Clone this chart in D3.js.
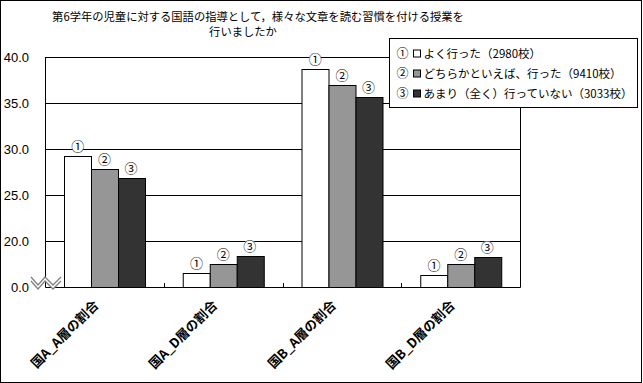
<!DOCTYPE html>
<html>
<head>
<meta charset="utf-8">
<script src="https://cdn.jsdelivr.net/npm/d3@7"></script>
<style>
  body { margin: 0; background: #fff; }
  svg text { font-family: "Noto Sans CJK JP", sans-serif; fill: #000; }
</style>
</head>
<body>
<svg id="chart" width="643" height="383"></svg>
<script>
// categories and series
const categories = ["国A_A層の割合", "国A_D層の割合", "国B_A層の割合", "国B_D層の割合"];
const seriesMarks = ["①", "②", "③"];
const seriesNames = ["よく行った（2980校）", "どちらかといえば、行った（9410校）", "あまり（全く）行っていない（3033校）"];
const seriesColors = ["#ffffff", "#969696", "#333333"];

// values as plotted on the broken axis
const yoku = [29.2, 16.5, 38.7, 16.3];
const dochiraka = [27.8, 17.5, 37.0, 17.5];
const amari = [26.8, 18.4, 35.7, 18.3];

const yTicks = [15, 20, 25, 30, 35, 40];
const yTickLabels = ["0.0", "20.0", "25.0", "30.0", "35.0", "40.0"];

const titleLines = ["第6学年の児童に対する国語の指導として，様々な文章を読む習慣を付ける授業を", "行いましたか"];

const svg = d3.select("#chart");
const W = +svg.attr("width");
const H = +svg.attr("height");

const plot = { left: 45, right: 520, top: 57, bottom: 287 };

const values = [yoku, dochiraka, amari];
const rows = categories.map((c, i) => ({ cat: c, vals: values.map(v => v[i]) }));

const x0 = d3.scaleBand()
  .domain(categories)
  .range([plot.left, plot.right]);

const x1 = d3.scaleBand()
  .domain(d3.range(seriesMarks.length))
  .range([0, x0.bandwidth()])
  .paddingInner(0)
  .paddingOuter(0.727);

const y = d3.scaleLinear()
  .domain([15, 40])
  .range([plot.bottom, plot.top]);

// outer frame
svg.append("rect")
  .attr("x", 0.5).attr("y", 0.5)
  .attr("width", W - 2).attr("height", H - 1)
  .attr("fill", "#fff").attr("stroke", "#000");

// title
svg.append("text")
  .attr("x", 258).attr("y", 21)
  .attr("text-anchor", "middle")
  .style("font-size", "11.3px")
  .text(titleLines[0]);
svg.append("text")
  .attr("x", 243).attr("y", 36)
  .attr("text-anchor", "middle")
  .style("font-size", "11.3px")
  .text(titleLines[1]);

// gridlines
svg.append("g")
  .selectAll("line")
  .data(yTicks.slice(1))
  .join("line")
  .attr("x1", plot.left).attr("x2", plot.right)
  .attr("y1", d => Math.round(y(d)) + 0.5)
  .attr("y2", d => Math.round(y(d)) + 0.5)
  .attr("stroke", "#000");

// y labels
const yAxis = svg.append("g")
  .attr("transform", "translate(29,0)")
  .call(d3.axisLeft(y).tickValues(yTicks).tickFormat((d, i) => yTickLabels[i]).tickSize(0).tickPadding(0));
yAxis.select(".domain").remove();
yAxis.selectAll("text")
  .style("font-size", "13px")
  .style("font-family", "'Liberation Sans', sans-serif");

// bars
const groups = svg.append("g")
  .selectAll("g")
  .data(rows)
  .join("g")
  .attr("transform", d => `translate(${x0(d.cat)},0)`);

groups.selectAll("rect")
  .data(d => d.vals.map((v, i) => ({ i, v })))
  .join("rect")
  .attr("x", d => Math.round(x1(d.i)) + 0.5)
  .attr("y", d => Math.round(y(d.v)) + 0.5)
  .attr("width", Math.round(x1.bandwidth()))
  .attr("height", d => Math.round(plot.bottom - y(d.v)))
  .attr("fill", d => seriesColors[d.i])
  .attr("stroke", "#000");

// circled numbers above bars
const marks = groups.selectAll("g.mark")
  .data(d => d.vals.map((v, i) => ({ i, v })))
  .join("g")
  .attr("class", "mark")
  .attr("transform", d => `translate(${x1(d.i) + x1.bandwidth() / 2},${y(d.v) - 10})`);
marks.append("circle").attr("r", 6).attr("fill", "#fff");
marks.append("text")
  .attr("text-anchor", "middle")
  .attr("dy", "0.38em")
  .style("font-size", "13px")
  .text(d => seriesMarks[d.i]);

// plot border
svg.append("path")
  .attr("d", `M${plot.left + 0.5},${plot.top}V${plot.bottom + 0.5}H${plot.right + 0.5}V${plot.top}`)
  .attr("fill", "none").attr("stroke", "#000");

// bottom axis: inner ticks between categories + rotated labels
svg.append("g")
  .selectAll("line")
  .data(categories.slice(1))
  .join("line")
  .attr("x1", d => Math.round(x0(d)) + 0.5).attr("x2", d => Math.round(x0(d)) + 0.5)
  .attr("y1", plot.bottom - 4).attr("y2", plot.bottom)
  .attr("stroke", "#000");

const xAxis = svg.append("g")
  .attr("transform", `translate(0,${plot.bottom})`)
  .call(d3.axisBottom(x0).tickSize(0));
xAxis.select(".domain").remove();
xAxis.selectAll("text")
  .attr("x", 0).attr("y", 0).attr("dy", 0)
  .attr("transform", "translate(-5,19) rotate(-45)")
  .style("text-anchor", "end")
  .style("font-size", "13px")
  .style("font-weight", "bold");

// axis break symbol
const zx = [31, 38, 45, 53, 61];
const zTop = zx.map((x, i) => [x, i % 2 ? 285 : 277]);
const zBot = zTop.map(([x, yy]) => [x, yy + 4]);
svg.append("path")
  .attr("d", d3.line()(zTop.concat(zBot.slice().reverse())) + "Z")
  .attr("fill", "#fff");
[zTop, zBot].forEach(pts => {
  svg.append("path")
    .attr("d", d3.line()(pts))
    .attr("fill", "none")
    .attr("stroke", "#808080")
    .attr("stroke-width", 1.3);
});

// legend
const lg = svg.append("g").attr("transform", "translate(389.5,38.5)");
lg.append("rect")
  .attr("width", 248).attr("height", 69)
  .attr("fill", "#fff").attr("stroke", "#000");
const items = lg.selectAll("g.item")
  .data(seriesNames)
  .join("g")
  .attr("class", "item")
  .attr("transform", (d, i) => `translate(0,${15 + i * 20})`);
items.append("text")
  .attr("x", 7).attr("dy", "0.38em")
  .style("font-size", "12px")
  .text((d, i) => seriesMarks[i]);
items.append("rect")
  .attr("x", 24).attr("y", -3.5)
  .attr("width", 7).attr("height", 7)
  .attr("fill", (d, i) => seriesColors[i])
  .attr("stroke", "#000");
items.append("text")
  .attr("x", 34).attr("dy", "0.38em")
  .style("font-size", "11.5px")
  .text(d => d);
</script>
</body>
</html>
